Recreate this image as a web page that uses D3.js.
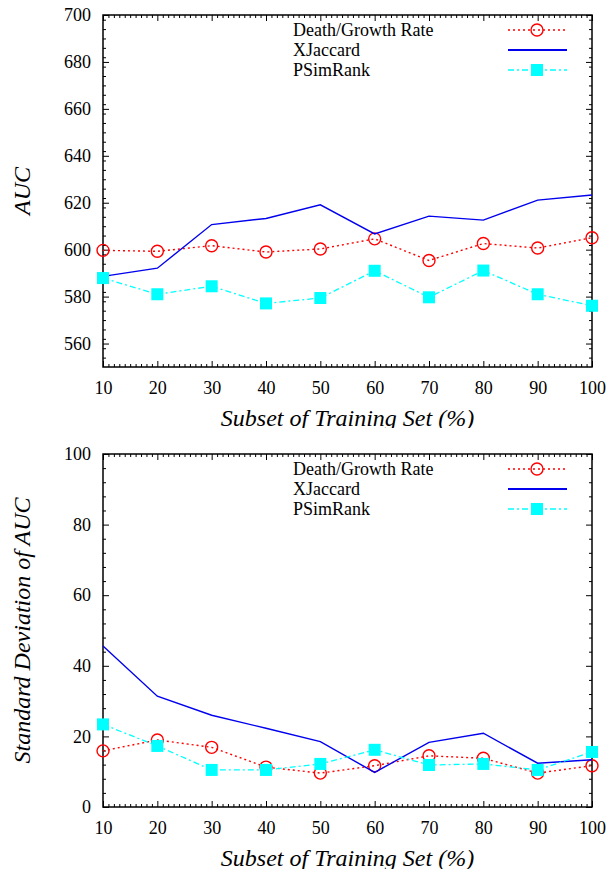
<!DOCTYPE html>
<html>
<head>
<meta charset="utf-8">
<script src="https://cdn.jsdelivr.net/npm/d3@7"></script>
<style>
  html, body { margin: 0; padding: 0; background: #fff; }
  svg { display: block; }
  text { font-family: "Liberation Serif", "Times New Roman", "DejaVu Serif", serif; fill: #000; }
</style>
</head>
<body>
<svg id="chart" width="609" height="869"></svg>
<script>
// ---- data ----
const subsets = [10, 20, 30, 40, 50, 60, 70, 80, 90, 100];
const seriesNames = ["Death/Growth Rate", "XJaccard", "PSimRank"];

const aucDeathGrowth = [599.7, 599.3, 601.7, 599.0, 600.3, 604.6, 595.4, 602.6, 600.7, 605.1];
const aucXJaccard    = [588.6, 592.1, 610.7, 613.3, 619.1, 606.7, 614.3, 612.6, 621.1, 623.3];
const aucPSimRank    = [587.9, 581.0, 584.4, 577.1, 579.4, 591.0, 579.7, 591.1, 581.0, 576.1];

const sdDeathGrowth = [15.9, 19.0, 16.9, 11.3, 9.6, 11.7, 14.5, 13.8, 9.6, 11.7];
const sdXJaccard    = [45.6, 31.4, 26.0, 22.3, 18.5, 9.8, 18.3, 20.9, 12.4, 13.4];
const sdPSimRank    = [23.4, 17.3, 10.5, 10.5, 12.2, 16.2, 11.9, 12.2, 10.5, 15.6];

const xTicks = [10, 20, 30, 40, 50, 60, 70, 80, 90, 100];
const aucTicks = [560, 580, 600, 620, 640, 660, 680, 700];
const sdTicks = [0, 20, 40, 60, 80, 100];

// ---- drawing ----
const FONT = '"Liberation Serif", "Times New Roman", "DejaVu Serif", serif';
const svg = d3.select("#chart");
const styles = [
  { color: "#ff0000", dash: "2,3", width: 1.4, marker: "circle" },
  { color: "#0000ee", dash: null, width: 1.4, marker: null },
  { color: "#00ffff", dash: "6,3,2,3", width: 1.3, marker: "square" }
];

function panel(cfg) {
  const left = 103, right = 592;
  const g = svg.append("g");
  const clipId = "clip" + cfg.id;
  svg.append("clipPath").attr("id", clipId)
    .append("rect").attr("x", 0).attr("y", cfg.clipTop).attr("width", 609).attr("height", cfg.clipBottom - cfg.clipTop);
  g.attr("clip-path", `url(#${clipId})`);

  const x = d3.scaleLinear().domain([10, 100]).range([left, right]);
  const y = d3.scaleLinear().domain(cfg.yDomain).range([cfg.bottom, cfg.top]);

  const xMinor = d3.range(10, 101, 1).filter(v => v % 10 !== 0);
  const yMinor = d3.range(cfg.yDomain[0], cfg.yDomain[1] + 0.001, cfg.yMinorStep)
    .filter(v => !cfg.yTicks.includes(v) && v !== cfg.yDomain[0] && v !== cfg.yDomain[1]);

  function styleAxis(sel) {
    sel.attr("font-family", FONT).attr("font-size", 18);
    sel.select(".domain").remove();
    sel.selectAll("line").attr("stroke", "#000").attr("stroke-width", 1);
    sel.selectAll("text").style("font-size", "18px").style("font-family", FONT);
  }

  // bottom
  g.append("g").attr("transform", `translate(0,${cfg.bottom})`)
    .call(d3.axisBottom(x).tickValues(xTicks).tickSize(-6).tickPadding(14).tickFormat(d3.format("d")))
    .call(styleAxis);
  g.append("g").attr("transform", `translate(0,${cfg.bottom})`)
    .call(d3.axisBottom(x).tickValues(xMinor).tickSize(-3).tickFormat(""))
    .call(styleAxis);
  // top mirror
  g.append("g").attr("transform", `translate(0,${cfg.top})`)
    .call(d3.axisTop(x).tickValues(xTicks).tickSize(-6).tickFormat(""))
    .call(styleAxis);
  g.append("g").attr("transform", `translate(0,${cfg.top})`)
    .call(d3.axisTop(x).tickValues(xMinor).tickSize(-3).tickFormat(""))
    .call(styleAxis);
  // left
  g.append("g").attr("transform", `translate(${left},0)`)
    .call(d3.axisLeft(y).tickValues(cfg.yTicks).tickSize(-6).tickPadding(12).tickFormat(d3.format("d")))
    .call(styleAxis);
  g.append("g").attr("transform", `translate(${left},0)`)
    .call(d3.axisLeft(y).tickValues(yMinor).tickSize(-3).tickFormat(""))
    .call(styleAxis);
  // right mirror
  g.append("g").attr("transform", `translate(${right},0)`)
    .call(d3.axisRight(y).tickValues(cfg.yTicks).tickSize(-6).tickFormat(""))
    .call(styleAxis);
  g.append("g").attr("transform", `translate(${right},0)`)
    .call(d3.axisRight(y).tickValues(yMinor).tickSize(-3).tickFormat(""))
    .call(styleAxis);

  // frame
  g.append("rect").attr("x", left).attr("y", cfg.top)
    .attr("width", right - left).attr("height", cfg.bottom - cfg.top)
    .attr("fill", "none").attr("stroke", "#000").attr("stroke-width", 1.5);

  // axis titles
  g.append("text").attr("x", (left + right) / 2).attr("y", cfg.bottom + 59)
    .attr("text-anchor", "middle").style("font-style", "italic").style("font-size", "24px")
    .style("font-family", FONT)
    .text("Subset of Training Set (%)");
  g.append("text")
    .attr("transform", `translate(30,${(cfg.top + cfg.bottom) / 2}) rotate(-90)`)
    .attr("text-anchor", "middle").style("font-style", "italic").style("font-size", "24px")
    .style("font-family", FONT)
    .text(cfg.yTitle);

  // series
  const line = d3.line().x((d, i) => x(subsets[i])).y(d => y(d));
  cfg.series.forEach((vals, si) => {
    const st = styles[si];
    g.append("path").datum(vals).attr("d", line)
      .attr("fill", "none").attr("stroke", st.color).attr("stroke-width", st.width)
      .attr("stroke-dasharray", st.dash);
    if (st.marker === "circle") {
      g.selectAll(null).data(vals).enter().append("circle")
        .attr("cx", (d, i) => x(subsets[i])).attr("cy", d => y(d)).attr("r", 6)
        .attr("fill", "none").attr("stroke", st.color).attr("stroke-width", 1.4);
    } else if (st.marker === "square") {
      g.selectAll(null).data(vals).enter().append("rect")
        .attr("x", (d, i) => x(subsets[i]) - 6).attr("y", d => y(d) - 6)
        .attr("width", 12).attr("height", 12).attr("fill", st.color);
    }
  });

  // legend
  seriesNames.forEach((name, si) => {
    const st = styles[si];
    const cy = cfg.top + 15 + si * 20;
    g.append("text").attr("x", 293).attr("y", cy + 6).style("font-size", "18px")
      .style("font-family", FONT).text(name);
    g.append("line").attr("x1", 508).attr("x2", 567).attr("y1", cy).attr("y2", cy)
      .attr("stroke", st.color).attr("stroke-width", st.marker ? st.width : 2)
      .attr("stroke-dasharray", st.dash);
    if (st.marker === "circle") {
      g.append("circle").attr("cx", 537).attr("cy", cy).attr("r", 6)
        .attr("fill", "none").attr("stroke", st.color).attr("stroke-width", 1.4);
    } else if (st.marker === "square") {
      g.append("rect").attr("x", 531).attr("y", cy - 6).attr("width", 12).attr("height", 12)
        .attr("fill", st.color);
    }
  });
}

panel({
  id: "auc", top: 15, bottom: 367, yDomain: [550, 700], yTicks: aucTicks, yMinorStep: 4,
  yTitle: "AUC", clipTop: 0, clipBottom: 428,
  series: [aucDeathGrowth, aucXJaccard, aucPSimRank]
});
panel({
  id: "sd", top: 454, bottom: 807, yDomain: [0, 100], yTicks: sdTicks, yMinorStep: 4,
  yTitle: "Standard Deviation of AUC", clipTop: 436, clipBottom: 869,
  series: [sdDeathGrowth, sdXJaccard, sdPSimRank]
});
</script>
</body>
</html>
